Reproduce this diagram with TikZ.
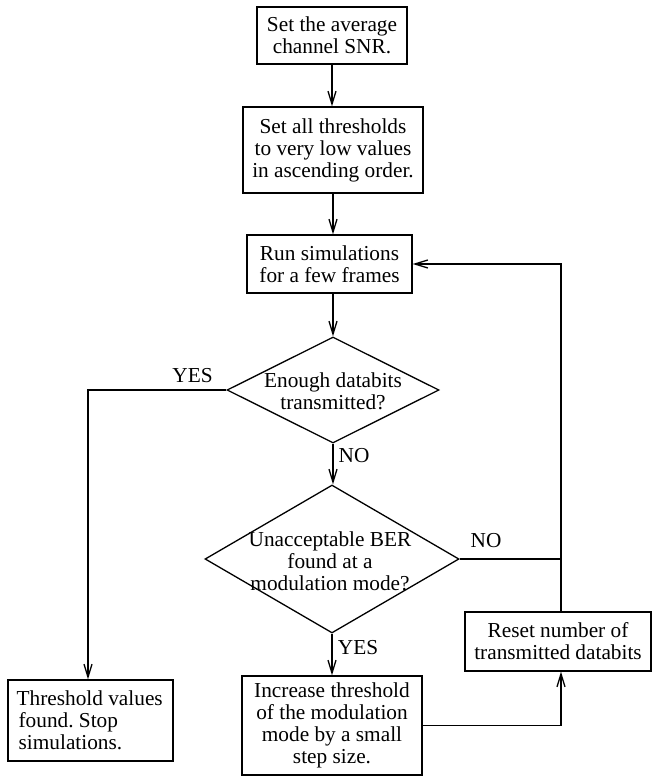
\documentclass[tikz,border=0pt]{standalone}
\usepackage{fontspec}
\setmainfont{Liberation Serif}
\usetikzlibrary{arrows.meta,shapes.geometric}
\frenchspacing
\begin{document}
\begin{tikzpicture}[x=1pt,y=-1pt,
  font=\fontsize{21.3}{22}\selectfont,
  every path/.style={line width=1.3pt},
  box/.style={draw,rectangle,inner sep=0pt,align=center,line width=1.3pt},
  dia/.style={draw,diamond,inner sep=0pt,line width=1.3pt},
  arr/.style={-{Straight Barb[length=13pt,width=8pt,line width=1.3pt]}},
  lbl/.style={inner sep=0pt}]
\useasboundingbox (0,0) rectangle (652,776);

\node[box,minimum width=150pt,minimum height=57pt] (b1) at (332,35.5) {Set the average\\channel SNR.};
\node[box,minimum width=180pt,minimum height=86pt] (b2) at (333,150) {Set all thresholds\\to very low values\\in ascending order.};
\node[box,minimum width=165pt,minimum height=58pt] (b3) at (329.5,264) {Run simulations\\for a few frames};
\node[dia,minimum width=212pt,minimum height=106pt] (d1) at (333,390) {};
\node[lbl,align=center] (t1) at (333,391) {Enough databits\\transmitted?};
\node[dia,minimum width=254pt,minimum height=148pt] (d2) at (332,559) {};
\node[lbl,align=center] (t2) at (330,561) {Unacceptable BER\\found at a\\modulation mode?};
\node[box,minimum width=165pt,minimum height=81pt] (b4) at (90.5,720.5) {};
\node[lbl,align=left,anchor=west] (t4) at (16,720) {Threshold values\\\hspace{2pt}found. Stop\\\hspace{2pt}simulations.};
\node[box,minimum width=186pt,minimum height=59pt] (b6) at (558,641.5) {Reset number of\\transmitted databits};
\node[box,minimum width=180pt,minimum height=99pt] (b5) at (332,725.5) {Increase threshold\\of the modulation\\mode by a small\\step size.};
\coordinate (vx) at (561,0);
\coordinate (lx) at (88,0);

\node[lbl] (yes1) at (192.5,376) {YES};
\node[lbl] (no1) at (354,456) {NO};
\node[lbl] (no2) at (486,541) {NO};
\node[lbl] (yes2) at (358,648) {YES};

\draw[arr] (b1.south) -- (b1.south |- b2.north);
\draw[arr] (b2.south) -- (b2.south |- b3.north);
\draw[arr] (b3.south -| d1.north) -- (d1.north);
\draw[arr] (d1.south) -- (d1.south |- d2.north);
\draw[arr] (d1.west) -| (lx |- b4.north);
\draw[arr] (d2.south) -- (d2.south |- b5.north);
\draw (d2.east) -- (d2.east -| vx);
\draw[arr] (vx |- b6.north) |- (b3.east);
\draw[arr] (b5.east) -| (vx |- b6.south);
\end{tikzpicture}
\end{document}
